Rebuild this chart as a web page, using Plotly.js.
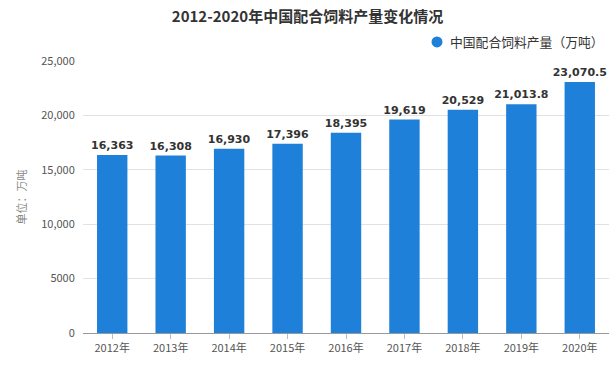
<!DOCTYPE html>
<html><head><meta charset="utf-8">
<script src="https://cdn.plot.ly/plotly-3.0.1.min.js"></script>
<style>html,body{margin:0;padding:0;background:#fff}#c{width:615px;height:372px}</style>
</head><body><div id="c"></div>
<script>
const years = ['2012年','2013年','2014年','2015年','2016年','2017年','2018年','2019年','2020年'];
const production = [16363, 16308, 16930, 17396, 18395, 19619, 20529, 21013.8, 23070.5];
const tickVals = [0, 5000, 10000, 15000, 20000, 25000];
const tickText = ['0', '5000', '10,000', '15,000', '20,000', '25,000'];
const seriesName = '中国配合饲料产量（万吨）';

function fmt(v){
  const isInt = Number.isInteger(v);
  return v.toLocaleString('en-US', {minimumFractionDigits: isInt?0:1, maximumFractionDigits: isInt?0:1});
}
const font = "'Noto Sans CJK SC','Microsoft YaHei',sans-serif";
const blue = '#1f80d9';

const traces = [
  {type:'bar', x: years, y: production, width: 0.52, marker:{color: blue}, name: seriesName,
   text: production.map(fmt), textposition:'outside', cliponaxis:false, constraintext:'none',
   textfont:{family:"'DejaVu Sans',sans-serif", size:11, color:'#333', weight:'bold'},
   showlegend:false, hoverinfo:'x+y'}
];

const layout = {
  width:615, height:372,
  margin:{l:83, r:6, t:61, b:39},
  paper_bgcolor:'#fff', plot_bgcolor:'#fff',
  font:{family: font, color:'#555', size:11},
  title:{text:'<b>2012-2020年中国配合饲料产量变化情况</b>', x:0.5, xanchor:'center', y:0.955, yanchor:'middle',
         font:{family: font, size:15, color:'#333'}},
  showlegend:false,
  shapes:[{type:'circle', xref:'paper', yref:'paper', xsizemode:'pixel', ysizemode:'pixel',
           xanchor:0.673, yanchor:1.07, x0:-5.5, x1:5.5, y0:-5.5, y1:5.5,
           fillcolor: blue, line:{width:0}}],
  annotations:[{xref:'paper', yref:'paper', x:0.694, y:1.07, xanchor:'left', yanchor:'middle',
                text: seriesName, showarrow:false, font:{family: font, size:12.8, color:'#333'}}],
  xaxis:{type:'category', showline:true, linecolor:'#999', linewidth:1, ticks:'outside', ticklen:5, tickcolor:'#bbb',
         tickfont:{family: font, size:11, color:'#555'}, showgrid:false, zeroline:false},
  yaxis:{range:[0,25000], tickvals: tickVals, ticktext: tickText, showgrid:true, gridcolor:'#e2e2e2', gridwidth:1,
         zeroline:false, showline:false, ticks:'outside', ticklen:5, tickcolor:'rgba(0,0,0,0)',
         tickfont:{family: font, size:11, color:'#555'},
         title:{text:'单位：万吨', standoff:12, font:{family: font, size:11, color:'#888'}}},
  bargap:0.48
};
Plotly.newPlot('c', traces, layout, {displayModeBar:false, staticPlot:true});
</script></body></html>
